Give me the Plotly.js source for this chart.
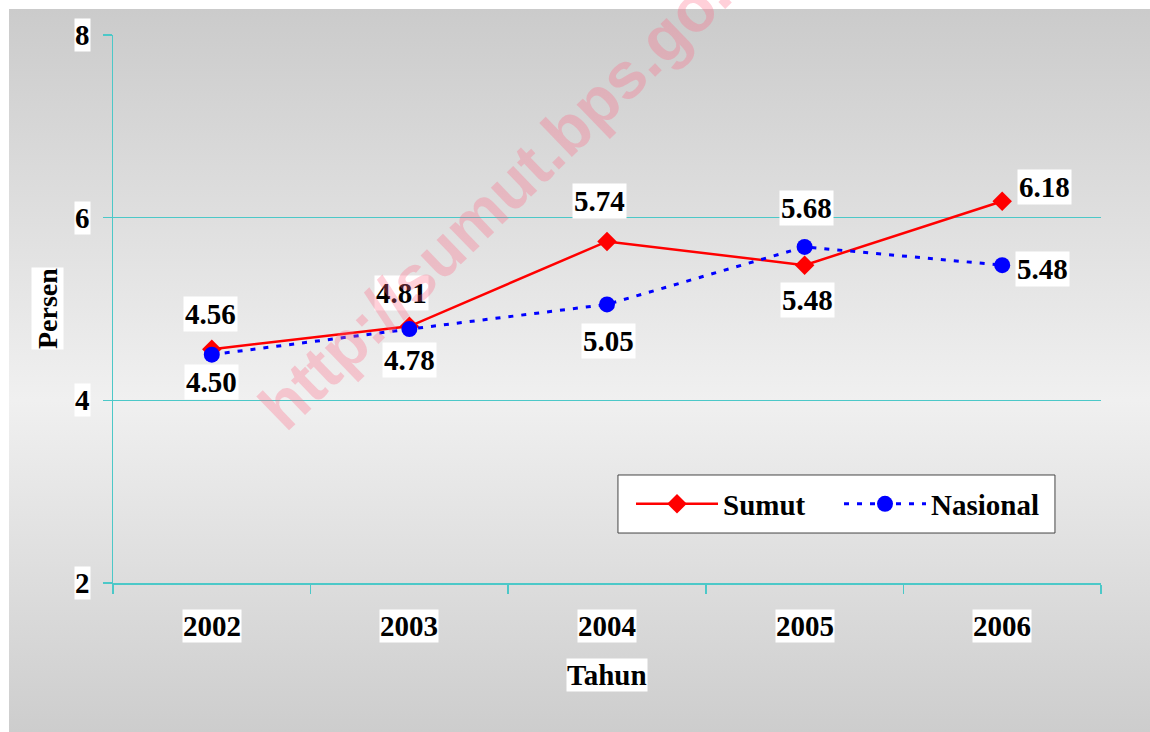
<!DOCTYPE html>
<html>
<head>
<meta charset="utf-8">
<script src="https://cdn.plot.ly/plotly-3.0.1.min.js"></script>
<style>
  html, body { margin: 0; padding: 0; background: #ffffff; }
  #chart {
    width: 1150px; height: 732px;
    background: linear-gradient(to bottom, #cbcbcb 0%, #f0f0f0 54%, #cdcdcd 100%) 9px 9px / 1141px 723px no-repeat, #ffffff;
  }
</style>
</head>
<body>
<div id="chart"></div>
<script>
// ---- data ----
const years = ['2002', '2003', '2004', '2005', '2006'];
const sumut = [4.56, 4.81, 5.74, 5.48, 6.18];
const nasional = [4.50, 4.78, 5.05, 5.68, 5.48];
const yTicks = [2, 4, 6, 8];
const seriesNames = ['Sumut', 'Nasional'];
const xTitle = 'Tahun';
const yTitle = 'Persen';
const watermark = 'http://sumut.bps.go.id';

// ---- style ----
const serif = 'Liberation Serif, Times New Roman, serif';
const teal = '#4cc8c8';
const fs = 29;
const sumutShift = [[-1, 35], [-8, 33], [-8, 40], [3, -35], [42, 14]];
const nasShift = [[0, -27], [0, -31], [1, -37], [2, 39], [40, -4]];

function fmt(v) { return v.toFixed(2); }
const boldFont = (size) => ({ family: serif, size: size, color: '#000000', weight: 'bold' });

const annotations = [];
// data labels
sumut.forEach((v, i) => annotations.push({
  x: i, y: v, xref: 'x', yref: 'y', text: fmt(v), showarrow: false,
  xanchor: 'center', yanchor: 'middle', xshift: sumutShift[i][0], yshift: sumutShift[i][1],
  bgcolor: '#ffffff', borderpad: 1, font: boldFont(fs)
}));
nasional.forEach((v, i) => annotations.push({
  x: i, y: v, xref: 'x', yref: 'y', text: fmt(v), showarrow: false,
  xanchor: 'center', yanchor: 'middle', xshift: nasShift[i][0], yshift: nasShift[i][1],
  bgcolor: '#ffffff', borderpad: 1, font: boldFont(fs)
}));
// y tick labels
yTicks.forEach(t => annotations.push({
  x: 0, xref: 'paper', y: t, yref: 'y', text: String(t), showarrow: false,
  xanchor: 'right', yanchor: 'middle', xshift: -22, bgcolor: '#ffffff', borderpad: 0,
  font: boldFont(fs)
}));
// x tick labels
years.forEach((yr, i) => annotations.push({
  x: i, xref: 'x', y: 0, yref: 'paper', text: yr, showarrow: false,
  xanchor: 'center', yanchor: 'top', yshift: -26, bgcolor: '#ffffff', borderpad: 0,
  font: boldFont(fs)
}));
// axis titles
annotations.push({
  x: 0.5, xref: 'paper', y: 0, yref: 'paper', text: xTitle, showarrow: false,
  xanchor: 'center', yanchor: 'top', yshift: -75, bgcolor: '#ffffff', borderpad: 0,
  font: boldFont(fs)
});
annotations.push({
  x: 0, xref: 'paper', y: 0.5, yref: 'paper', text: yTitle, showarrow: false, textangle: -90,
  xanchor: 'center', yanchor: 'middle', xshift: -66, bgcolor: '#ffffff', borderpad: 0,
  font: boldFont(28)
});
// watermark
annotations.push({
  x: 0.4069, xref: 'paper', y: 0.7354, yref: 'paper', text: watermark, showarrow: false,
  textangle: -44, xanchor: 'center', yanchor: 'middle',
  font: { family: 'Liberation Sans, Arial, sans-serif', size: 65, color: 'rgba(255,100,130,0.3)', weight: 'bold' }
});

const traces = [
  {
    x: years, y: sumut, name: seriesNames[0], type: 'scatter', mode: 'lines+markers',
    line: { color: '#ff0000', width: 2.5 },
    marker: { symbol: 'diamond', size: 15, color: '#ff0000' }
  },
  {
    x: years, y: nasional, name: seriesNames[1], type: 'scatter', mode: 'lines+markers',
    line: { color: '#0000ff', width: 3, dash: '5px,8px' },
    marker: { symbol: 'circle', size: 16, color: '#0000ff' }
  }
];

const layout = {
  width: 1150, height: 732,
  margin: { l: 113, r: 49, t: 35, b: 149, pad: 0 },
  paper_bgcolor: 'rgba(0,0,0,0)',
  plot_bgcolor: 'rgba(0,0,0,0)',
  showlegend: true,
  legend: {
    x: 0.5243, y: 0.1442, xanchor: 'left', yanchor: 'middle', orientation: 'h',
    bgcolor: 'rgba(0,0,0,0)', borderwidth: 0,
    itemwidth: 82, entrywidth: 111, entrywidthmode: 'pixels',
    font: boldFont(fs)
  },
  shapes: [{
    type: 'rect', xref: 'paper', yref: 'paper', layer: 'above',
    x0: 0.5111, x1: 0.9534, y0: 0.0912, y1: 0.1971,
    fillcolor: '#ffffff', line: { color: '#444444', width: 1 }
  }],
  xaxis: {
    type: 'category', range: [-0.5, 4.5], showgrid: false, zeroline: false,
    showline: true, linecolor: teal, linewidth: 2,
    ticks: 'outside', tickson: 'boundaries', ticklen: 9, tickcolor: teal, tickwidth: 1.5,
    showticklabels: false, fixedrange: true
  },
  yaxis: {
    range: [2, 8], tickvals: yTicks, showgrid: true, gridcolor: teal, gridwidth: 1.2,
    zeroline: false, showline: true, linecolor: teal, linewidth: 1.5,
    ticks: 'outside', ticklen: 9, tickcolor: teal, tickwidth: 1.5,
    showticklabels: false, fixedrange: true
  },
  annotations: annotations
};

Plotly.newPlot('chart', traces, layout, { displayModeBar: false, staticPlot: true });
</script>
</body>
</html>
